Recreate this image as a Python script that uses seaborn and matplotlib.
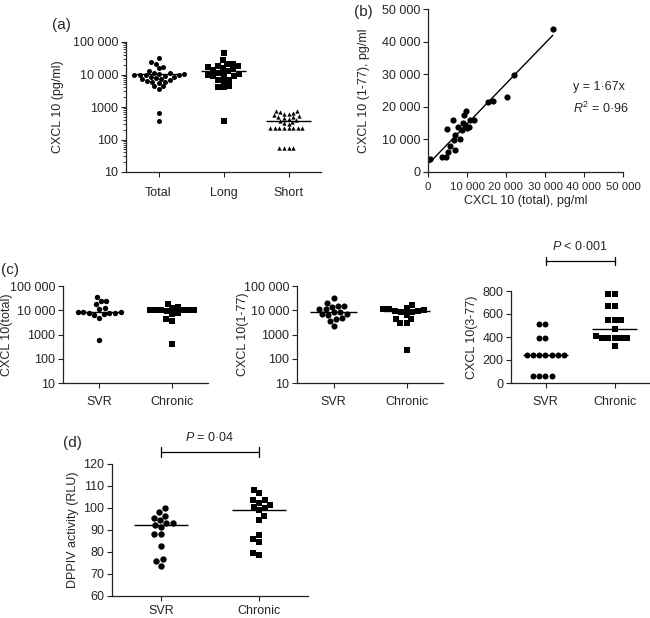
import matplotlib
matplotlib.use('Agg')
import matplotlib.pyplot as plt
import matplotlib.transforms as mtransforms
import numpy as np
import pandas as pd
import seaborn as sns

# (a) CXCL 10 (pg/ml) per patient group
groups_a = ['Total', 'Long', 'Short']
total_a = [33000, 23500, 21000, 17500, 15500, 12500, 11500, 11000, 10500, 10200,
           10000, 10000, 9800, 9500, 9000, 8500, 8500, 8000, 7500, 7200,
           7000, 6500, 6000, 6000, 5500, 4400, 4300, 3500, 640, 380]
long_a = [45000, 27000, 21500, 21000, 18500, 18000, 17000, 16000, 14500, 14000,
          13000, 11000, 10500, 10000, 10000, 9000, 8800, 7000, 6800, 6500,
          4500, 4200, 4000, 380]
short_a = [760, 740, 700, 650, 620, 600, 560, 520, 500, 480, 450, 420, 400, 380,
           350, 320, 300, 220, 220, 220, 220, 220, 220, 220, 220, 56, 56, 56, 56]
medians_a = [10300, 13100, 370]

# (b) CXCL 10 total vs CXCL 10 (1-77), pg/ml
cxcl_total_b = [430, 3700, 4500, 4900, 5200, 5600, 6500, 6700, 6900, 7000,
                7800, 8200, 8600, 9000, 9300, 9700, 9500, 9900, 10400, 10700,
                11700, 15500, 16700, 20200, 22000, 32000]
cxcl_177_b = [4000, 4500, 4500, 13200, 6100, 8100, 15800, 9900, 11500, 6900,
              13700, 10200, 13000, 14900, 17500, 18700, 14400, 13400, 13700, 16000,
              15800, 21600, 21800, 23000, 29800, 44000]

# (c) SVR vs chronic
groups_cd = ['SVR', 'Chronic']
svr_total = [34000, 25000, 23500, 17500, 12000, 11500, 8400, 8200, 8200, 8000,
             7800, 7600, 7000, 6500, 5000, 600]
chronic_total = [18000, 13500, 12500, 10500, 10300, 10200, 10000, 10000, 9800,
                 9500, 7500, 7000, 4500, 3700, 420]
medians_total = [8200, 10200]
svr_177 = [31000, 19500, 15500, 15000, 14000, 11500, 11000, 8700, 8200, 7000,
           6800, 6500, 5000, 4500, 3700, 2300]
chronic_177 = [16500, 12000, 11000, 11000, 10500, 9000, 9000, 8600, 8500, 6600,
               4400, 4200, 3000, 2900, 240]
medians_177 = [8200, 9000]
svr_377 = [510, 510, 390, 390, 240, 240, 240, 240, 240, 240, 240, 60, 60, 60, 60]
chronic_377 = [770, 770, 670, 670, 550, 550, 550, 470, 410, 395, 395, 395, 395,
               395, 320]
medians_377 = [240, 470]

# (d) DPPIV activity (RLU)
svr_dppiv = [99.8, 98.0, 96.5, 94.6, 95.5, 93.3, 92.3, 93.4, 91.4, 88.4, 88.4,
             82.6, 76.6, 75.8, 73.7]
chronic_dppiv = [108.4, 106.6, 101.5, 103.6, 102.5, 103.6, 100.6, 99.8, 99.0,
                 96.3, 94.5, 85.8, 87.6, 84.6, 78.7, 79.6]
medians_dppiv = [92.4, 99.3]

sns.set_theme(style='ticks')
plt.rcParams['font.family'] = ['Liberation Sans', 'DejaVu Sans']
plt.rcParams['mathtext.fontset'] = 'custom'
plt.rcParams['mathtext.rm'] = 'Liberation Sans'
plt.rcParams['mathtext.it'] = 'Liberation Sans:italic'
plt.rcParams['axes.edgecolor'] = '#222222'
plt.rcParams['axes.linewidth'] = 0.9

W, H = 650, 618
fig = plt.figure(figsize=(W / 100, H / 100), dpi=100)


def add_ax(x0, y0, x1, y1):
    return fig.add_axes([x0 / W, 1 - y1 / H, (x1 - x0) / W, (y1 - y0) / H])


def style(ax):
    sns.despine(ax=ax)
    ax.tick_params(direction='out', length=3.5, width=0.8, color='#222222',
                   labelsize=9, pad=2)
    ax.tick_params(which='minor', length=2, width=0.6)
    ax.set_xlabel('')


def dot_panel(ax, groups, values, markers, medians, sizes, half, log=False):
    df = pd.DataFrame({'group': np.repeat(groups, [len(v) for v in values]),
                       'value': np.concatenate(values)})
    for g, m, sz in zip(groups, markers, sizes):
        sns.swarmplot(data=df[df.group == g], x='group', y='value', order=groups,
                      marker=m, color='black', size=sz, linewidth=0, ax=ax,
                      log_scale=log)
    for i, med in enumerate(medians):
        ax.hlines(med, i - half, i + half, color='black', lw=1, zorder=3)
    ax.set_xlim(-0.5, len(groups) - 0.5)


log_ticks = [10, 100, 1000, 10000, 100000]
log_labels = ['10', '100', '1000', '10 000', '100 000']

# ---- (a)
ax_a = add_ax(126, 42, 321, 172)
dot_panel(ax_a, groups_a, [total_a, long_a, short_a], ['o', 's', '^'],
          medians_a, [3.6, 4.0, 3.1], 0.34, log=True)
ax_a.set_ylim(10, 100000)
ax_a.set_yticks(log_ticks)
ax_a.set_yticklabels(log_labels)
style(ax_a)
ax_a.set_ylabel('CXCL 10 (pg/ml)', fontsize=9)
ax_a.yaxis.set_label_coords(-0.32, 0.5)
ax_a.tick_params(axis='x', pad=7)
fig.text(61 / W, 1 - 25 / H, '(a)', fontsize=11, ha='center', va='center')

# ---- (b)
ax_b = add_ax(428, 9, 623, 172)
sns.regplot(x=cxcl_total_b, y=cxcl_177_b, ci=None, truncate=True, ax=ax_b,
            color='black', scatter_kws=dict(s=20, linewidths=0, alpha=1),
            line_kws=dict(lw=1))
ax_b.set_xlim(0, 50000)
ax_b.set_ylim(0, 50000)
lin_ticks = [0, 10000, 20000, 30000, 40000, 50000]
lin_labels = ['0', '10 000', '20 000', '30 000', '40 000', '50 000']
ax_b.set_xticks(lin_ticks)
ax_b.set_xticklabels(lin_labels)
ax_b.set_yticks(lin_ticks)
ax_b.set_yticklabels(lin_labels)
style(ax_b)
ax_b.tick_params(axis='x', labelsize=8.2, pad=4)
ax_b.set_xlabel('CXCL 10 (total), pg/ml', fontsize=9)
ax_b.xaxis.set_label_coords(0.5, -0.14)
ax_b.set_ylabel('CXCL 10 (1-77), pg/ml', fontsize=9)
ax_b.yaxis.set_label_coords(-0.30, 0.5)
ax_b.text(37200, 26100, 'y = 1\u00b767x', fontsize=9, ha='left', va='center')
ax_b.text(37200, 19600, '$R^2$ = 0\u00b796', fontsize=9, ha='left', va='center')
fig.text(363 / W, 1 - 12 / H, '(b)', fontsize=11, ha='center', va='center')

# ---- (c)
ax_c1 = add_ax(63, 286, 208, 383)
dot_panel(ax_c1, groups_cd, [svr_total, chronic_total], ['o', 's'],
          medians_total, [3.9, 4.0], 0.31, log=True)
ax_c1.set_ylim(10, 100000)
ax_c1.set_yticks(log_ticks)
ax_c1.set_yticklabels(log_labels)
style(ax_c1)
ax_c1.set_ylabel('CXCL 10(total)', fontsize=9)
ax_c1.yaxis.set_label_coords(-0.345, 0.5)
ax_c1.tick_params(axis='x', pad=6)
fig.text(10 / W, 1 - 270 / H, '(c)', fontsize=11, ha='center', va='center')

ax_c2 = add_ax(297, 286, 443, 383)
dot_panel(ax_c2, groups_cd, [svr_177, chronic_177], ['o', 's'],
          medians_177, [4.4, 4.2], 0.32, log=True)
ax_c2.set_ylim(10, 100000)
ax_c2.set_yticks(log_ticks)
ax_c2.set_yticklabels(log_labels)
style(ax_c2)
ax_c2.set_ylabel('CXCL 10(1-77)', fontsize=9)
ax_c2.yaxis.set_label_coords(-0.33, 0.5)
ax_c2.tick_params(axis='x', pad=6)

ax_c3 = add_ax(511, 291, 649, 383)
dot_panel(ax_c3, groups_cd, [svr_377, chronic_377], ['o', 's'],
          medians_377, [4.3, 4.3], 0.33)
ax_c3.set_ylim(0, 800)
ax_c3.set_yticks([0, 200, 400, 600, 800])
style(ax_c3)
ax_c3.set_ylabel('CXCL 10(3-77)', fontsize=9)
ax_c3.yaxis.set_label_coords(-0.24, 0.5)
ax_c3.tick_params(axis='x', pad=6)


def bracket(ax, yfrac, ytext, label):
    tr = mtransforms.blended_transform_factory(ax.transData, ax.transAxes)
    ax.plot([0, 1], [yfrac, yfrac], color='black', lw=0.9, transform=tr,
            clip_on=False)
    for xx in (0, 1):
        ax.plot([xx, xx], [yfrac - 0.04, yfrac + 0.04], color='black', lw=0.9,
                transform=tr, clip_on=False)
    ax.text(0.5, ytext, label, transform=tr, ha='center', va='center',
            fontsize=9)


bracket(ax_c3, 1.325, 1.48, '$P$ < 0\u00b7001')

# ---- (d)
ax_d = add_ax(112, 464, 308, 596)
dot_panel(ax_d, groups_cd, [svr_dppiv, chronic_dppiv], ['o', 's'],
          medians_dppiv, [4.6, 4.4], 0.28)
ax_d.set_ylim(60, 120)
ax_d.set_yticks([60, 70, 80, 90, 100, 110, 120])
style(ax_d)
ax_d.set_ylabel('DPPIV activity (RLU)', fontsize=9)
ax_d.yaxis.set_label_coords(-0.17, 0.5)
ax_d.tick_params(axis='x', pad=3)
bracket(ax_d, 1.09, 1.20, '$P$ = 0\u00b704')
fig.text(72 / W, 1 - 443 / H, '(d)', fontsize=11, ha='center', va='center')

fig.savefig('out.png', dpi=100)
